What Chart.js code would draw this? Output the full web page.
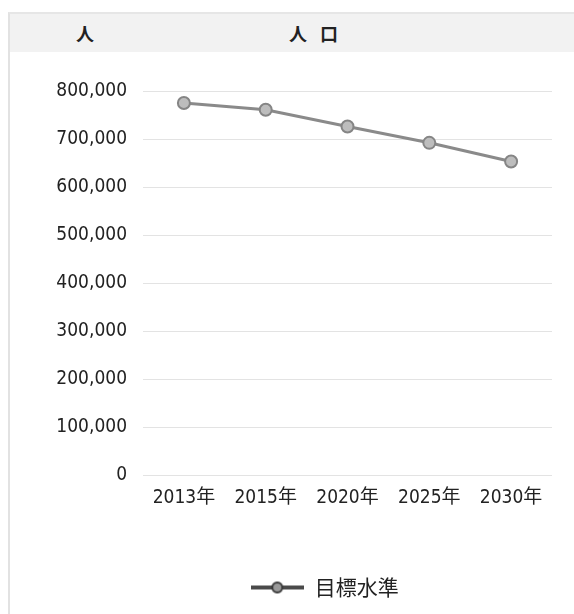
<!DOCTYPE html>
<html><head><meta charset="utf-8">
<script src="https://cdn.jsdelivr.net/npm/chart.js@4/dist/chart.umd.min.js"></script>
<style>
html,body{margin:0;padding:0;background:#fff;width:574px;height:614px;overflow:hidden;font-family:"DejaVu Sans Condensed","DejaVu Sans","Noto Sans CJK JP",sans-serif;}
#frame{position:absolute;left:8px;top:12px;width:566px;height:602px;border-left:2px solid #e2e2e2;border-top:2px solid #e6e6e6;}
#head{position:absolute;left:10px;top:14px;width:564px;height:38px;background:#f2f2f2;}
.h{position:absolute;top:20px;font-family:"Noto Sans CJK JP",sans-serif;font-size:18px;font-weight:bold;color:#222;}
#wrap{position:absolute;left:10px;top:52px;width:564px;height:562px;}
</style></head>
<body>
<div id="frame"></div>
<div id="head"></div>
<div class="h" style="left:76px;">人</div>
<div class="h" style="left:289px;letter-spacing:13px;">人口</div>
<div id="wrap"><canvas id="c" width="564" height="562"></canvas></div>
<script>
const categories = ["2013年","2015年","2020年","2025年","2030年"];
const targetLevel = [775000, 761000, 726000, 692000, 653000];
const seriesName = "目標水準";
const yTicks = [0,100000,200000,300000,400000,500000,600000,700000,800000];

const FONT = '"DejaVu Sans Condensed","DejaVu Sans","Noto Sans CJK JP",sans-serif';

// legend symbol: thick line with a small circle marker
const sym = document.createElement('canvas');
sym.width = 53; sym.height = 14;
(function(){
  const g = sym.getContext('2d');
  g.strokeStyle = '#4a4a4a'; g.lineWidth = 4;
  g.beginPath(); g.moveTo(0,7); g.lineTo(53,7); g.stroke();
  g.beginPath(); g.arc(26,7,5,0,Math.PI*2);
  g.fillStyle = '#9a9a9a'; g.fill();
  g.lineWidth = 2; g.strokeStyle = '#3a3a3a'; g.stroke();
})();

const shiftLegend = {
  id: 'shiftLegend',
  afterLayout(chart) {
    const l = chart.legend;
    if (l) { l.left += 44; l.right += 44; }
  }
};

new Chart(document.getElementById('c'), {
  type: 'line',
  data: {
    labels: categories,
    datasets: [{
      label: seriesName,
      data: targetLevel,
      borderColor: '#8a8a8a',
      backgroundColor: '#b4b4b4',
      borderWidth: 3,
      pointRadius: 6,
      pointBorderColor: '#858585',
      pointBorderWidth: 2,
      pointBackgroundColor: '#bdbdbd',
      pointStyle: 'circle',
      tension: 0
    }]
  },
  plugins: [shiftLegend],
  options: {
    responsive: false,
    animation: false,
    layout: { padding: { top: 39, right: 22, left: 0, bottom: 6 } },
    plugins: {
      legend: {
        position: 'bottom',
        labels: {
          usePointStyle: true,
          generateLabels: chart => [{
            text: seriesName, pointStyle: sym, fillStyle: '#999', strokeStyle: '#444',
            lineWidth: 0, hidden: false, datasetIndex: 0, fontColor: '#222'
          }],
          pointStyleWidth: 53,
          boxHeight: 14,
          color: '#222',
          font: { family: '"Noto Sans CJK JP",sans-serif', size: 21 },
          padding: 10
        }
      },
      tooltip: { enabled: false }
    },
    scales: {
      x: {
        offset: true,
        grid: { display: false, drawTicks: false },
        border: { display: false },
        ticks: { color: '#222', font: { family: FONT, size: 19 }, padding: 12, maxRotation: 0 },
        afterFit: s => { s.height = 92; }
      },
      y: {
        min: 0, max: 800000,
        afterBuildTicks: s => { s.ticks = yTicks.map(v => ({ value: v })); },
        grid: { color: '#e3e3e3', lineWidth: 1, drawTicks: false },
        border: { display: false },
        ticks: {
          color: '#222', font: { family: FONT, size: 19 }, padding: 16,
          callback: v => v.toLocaleString('en-US')
        },
        afterFit: s => { s.width = 133; }
      }
    }
  }
});
</script>
</body></html>
